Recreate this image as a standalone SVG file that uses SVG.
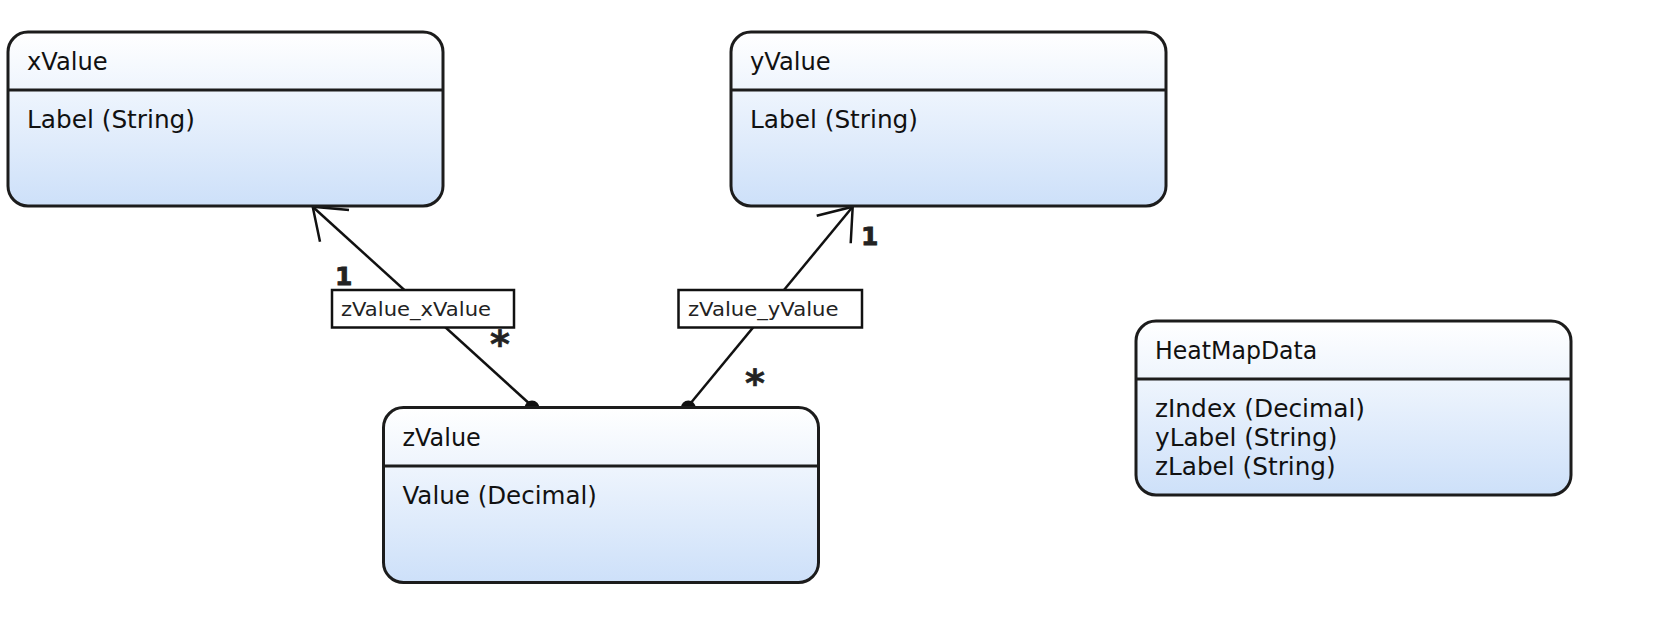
<svg xmlns="http://www.w3.org/2000/svg" width="1675" height="639" viewBox="0 0 1675 639">
<defs>
<linearGradient id="fill" x1="0" y1="0" x2="0" y2="1">
<stop offset="0" stop-color="#ffffff"/>
<stop offset="1" stop-color="#cde0f9"/>
</linearGradient>
<style>
.box{fill:url(#fill);stroke:#1c1c1c;stroke-width:3}
.div{stroke:#1c1c1c;stroke-width:3}
.t{font-family:"DejaVu Sans",Verdana,sans-serif;font-size:24px;fill:#111}
.conn{stroke:#111;stroke-width:2.5;fill:none}
.lbl{fill:#fff;stroke:#111;stroke-width:2.5}
.lt{font-family:"DejaVu Sans",Verdana,sans-serif;font-size:20px;fill:#222}
.m{font-family:"DejaVu Sans",Verdana,sans-serif;font-size:25px;font-weight:bold;fill:#222;stroke:#222;stroke-width:0.8}
.s{font-family:"DejaVu Sans",Verdana,sans-serif;font-size:38px;font-weight:bold;fill:#222;stroke:#222;stroke-width:0.6}
</style>
</defs>
<rect width="1675" height="639" fill="#fff"/>
<g id="connectors">
<g id="c1">
<line class="conn" x1="312.7" y1="206.7" x2="532" y2="406"/>
<polyline class="conn" points="349,210 312.7,206.7 320,241.7"/>
<circle cx="532" cy="408" r="7.5" fill="#111"/>
<rect class="lbl" x="332" y="290" width="182" height="37.5"/>
<text class="lt" x="341" y="316" textLength="150" lengthAdjust="spacingAndGlyphs">zValue_xValue</text>
<text class="m" x="335" y="285">1</text>
<text class="s" x="490" y="357">*</text>
</g>
<g id="c2">
<line class="conn" x1="852.7" y1="206.7" x2="688.3" y2="406"/>
<polyline class="conn" points="816.7,215.7 852.7,206.7 850.7,243.3"/>
<circle cx="688.3" cy="408" r="7.5" fill="#111"/>
<rect class="lbl" x="678.5" y="290" width="183.5" height="37.5"/>
<text class="lt" x="688" y="316" textLength="150.5" lengthAdjust="spacingAndGlyphs">zValue_yValue</text>
<text class="m" x="861" y="245">1</text>
<text class="s" x="745" y="396">*</text>
</g>
</g>
<g id="xValue">
<rect class="box" x="8" y="32" width="435" height="174" rx="20"/>
<line class="div" x1="8" y1="90" x2="443" y2="90"/>
<text class="t" x="27" y="70" textLength="80.7" lengthAdjust="spacingAndGlyphs">xValue</text>
<text class="t" x="27" y="128" textLength="168" lengthAdjust="spacingAndGlyphs">Label (String)</text>
</g>
<g id="yValue">
<rect class="box" x="731" y="32" width="435" height="174" rx="20"/>
<line class="div" x1="731" y1="90" x2="1166" y2="90"/>
<text class="t" x="750" y="70" textLength="80.7" lengthAdjust="spacingAndGlyphs">yValue</text>
<text class="t" x="750" y="128" textLength="168" lengthAdjust="spacingAndGlyphs">Label (String)</text>
</g>
<g id="zValue">
<rect class="box" x="383.5" y="407.5" width="435" height="175" rx="20"/>
<line class="div" x1="383.5" y1="466" x2="818.5" y2="466"/>
<text class="t" x="402.5" y="446" textLength="78.3" lengthAdjust="spacingAndGlyphs">zValue</text>
<text class="t" x="402.5" y="504" textLength="194.3" lengthAdjust="spacingAndGlyphs">Value (Decimal)</text>
</g>
<g id="HeatMapData">
<rect class="box" x="1136" y="321" width="435" height="174" rx="20"/>
<line class="div" x1="1136" y1="379" x2="1571" y2="379"/>
<text class="t" x="1155" y="359" textLength="162.3" lengthAdjust="spacingAndGlyphs">HeatMapData</text>
<text class="t" x="1155" y="417" textLength="210" lengthAdjust="spacingAndGlyphs">zIndex (Decimal)</text>
<text class="t" x="1155" y="446" textLength="182.3" lengthAdjust="spacingAndGlyphs">yLabel (String)</text>
<text class="t" x="1155" y="475" textLength="180.7" lengthAdjust="spacingAndGlyphs">zLabel (String)</text>
</g>
</svg>
